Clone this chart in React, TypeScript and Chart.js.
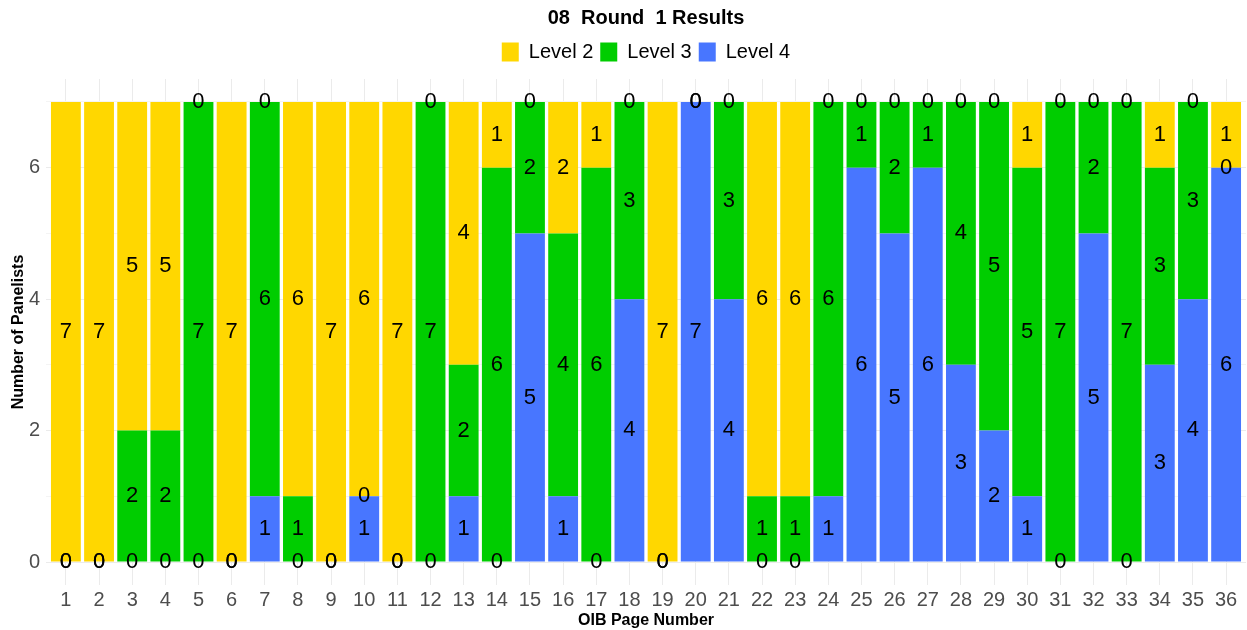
import React, { useEffect, useRef } from "react";
import { Chart, registerables } from "chart.js";

Chart.register(...registerables);

const categories = Array.from({ length: 36 }, (_, i) => i + 1);
const level2 = [7, 7, 5, 5, 0, 7, 0, 6, 7, 6, 7, 0, 4, 1, 0, 2, 1, 0, 7, 0, 0, 6, 6, 0, 0, 0, 0, 0, 0, 1, 0, 0, 0, 1, 0, 1];
const level3 = [0, 0, 2, 2, 7, 0, 6, 1, 0, 0, 0, 7, 2, 6, 2, 4, 6, 3, 0, 0, 3, 1, 1, 6, 1, 2, 1, 4, 5, 5, 7, 2, 7, 3, 3, 0];
const level4 = [0, 0, 0, 0, 0, 0, 1, 0, 0, 1, 0, 0, 1, 0, 5, 1, 0, 4, 0, 7, 4, 0, 0, 1, 6, 5, 6, 3, 2, 1, 0, 5, 0, 3, 4, 6];
const yTicks = [0, 1, 2, 3, 4, 5, 6, 7];

const FONT = "'Liberation Sans', Arial, sans-serif";

const valueLabels = {
  id: "valueLabels",
  afterDatasetsDraw(chart: any) {
    const ctx = chart.ctx;
    ctx.save();
    ctx.fillStyle = "#000000";
    ctx.font = `22px ${FONT}`;
    ctx.textAlign = "center";
    ctx.textBaseline = "middle";
    chart.data.datasets.forEach((ds: any, i: number) => {
      const meta = chart.getDatasetMeta(i);
      if (meta.hidden) return;
      meta.data.forEach((el: any, j: number) => {
        const p = el.getProps(["x", "y", "base"], true);
        const v = ds.data[j].y;
        ctx.fillText(String(v), p.x, (p.y + p.base) / 2);
      });
    });
    ctx.restore();
  },
};

export default function App() {
  const ref = useRef<HTMLCanvasElement | null>(null);
  useEffect(() => {
    if (!ref.current) return;
    const mk = (arr: number[]) => arr.map((v, i) => ({ x: categories[i], y: v }));
    const chart = new Chart(ref.current, {
      type: "bar",
      data: {
        datasets: [
          { label: "Level 4", data: mk(level4), backgroundColor: "#4876FF", borderWidth: 0 },
          { label: "Level 3", data: mk(level3), backgroundColor: "#00CD00", borderWidth: 0 },
          { label: "Level 2", data: mk(level2), backgroundColor: "#FFD700", borderWidth: 0 },
        ],
      } as any,
      options: {
        animation: false,
        responsive: false,
        maintainAspectRatio: false,
        layout: { padding: { left: 0, right: 1, top: 0, bottom: 0 } },
        datasets: { bar: { barPercentage: 0.9, categoryPercentage: 1 } } as any,
        plugins: {
          title: {
            display: true,
            fullSize: false,
            text: "08  Round  1 Results",
            color: "#000000",
            font: { family: FONT, size: 20, weight: "bold", lineHeight: 1.2 },
            padding: { top: 6, bottom: 5 },
          },
          subtitle: {
            display: true,
            fullSize: false,
            text: "",
            weight: 500,
            font: { size: 1, lineHeight: 1 },
            padding: { top: 6, bottom: 0 },
          } as any,
          legend: {
            display: true,
            fullSize: false,
            position: "top",
            reverse: true,
            labels: {
              boxWidth: 17,
              boxHeight: 19,
              padding: 7,
              color: "#000000",
              font: { family: FONT, size: 20 },
            },
          },
          tooltip: { enabled: false },
        },
        scales: {
          x: {
            type: "linear",
            stacked: true,
            offset: false,
            min: 0.4,
            max: 36.6,
            afterBuildTicks: (s: any) => {
              s.ticks = categories.map((v) => ({ value: v }));
            },
            afterFit: (s: any) => {
              s.height = 45;
              s.paddingLeft = 0;
              s.paddingRight = 0;
            },
            ticks: {
              autoSkip: false,
              maxRotation: 0,
              padding: 3,
              color: "#4D4D4D",
              font: { family: FONT, size: 20 },
              callback: (v: any) => String(v),
            },
            grid: { color: "#EBEBEB", lineWidth: 1, drawTicks: false, offset: false },
            border: { display: false },
            title: {
              display: true,
              text: "OIB Page Number",
              color: "#000000",
              font: { family: FONT, size: 16, weight: "bold", lineHeight: 1.2 },
              padding: { top: 0, bottom: 0 },
            },
          },
          y: {
            type: "linear",
            stacked: true,
            min: -0.35,
            max: 7.35,
            afterBuildTicks: (s: any) => {
              s.ticks = yTicks.map((v) => ({ value: v }));
            },
            afterFit: (s: any) => {
              s.width = 46;
              s.paddingTop = 0;
              s.paddingBottom = 0;
            },
            ticks: {
              padding: 6,
              color: "#4D4D4D",
              font: { family: FONT, size: 20 },
              callback: (v: any) => (Number(v) % 2 === 0 ? String(v) : ""),
            },
            grid: {
              drawTicks: false,
              lineWidth: 1,
              color: (c: any) => (c.tick && c.tick.value % 2 === 0 ? "#EBEBEB" : "#F4F4F4"),
            },
            border: { display: false },
            title: {
              display: true,
              text: "Number of Panelists",
              color: "#000000",
              font: { family: FONT, size: 16, weight: "bold", lineHeight: 1.2 },
              padding: { top: 9, bottom: 0 },
            },
          },
        },
      } as any,
      plugins: [valueLabels],
    });
    return () => chart.destroy();
  }, []);
  return (
    <div style={{ position: "absolute", left: 0, top: 0, width: 1247, height: 630, background: "#ffffff" }}>
      <canvas ref={ref} width={1247} height={630} style={{ display: "block" }} />
    </div>
  );
}
